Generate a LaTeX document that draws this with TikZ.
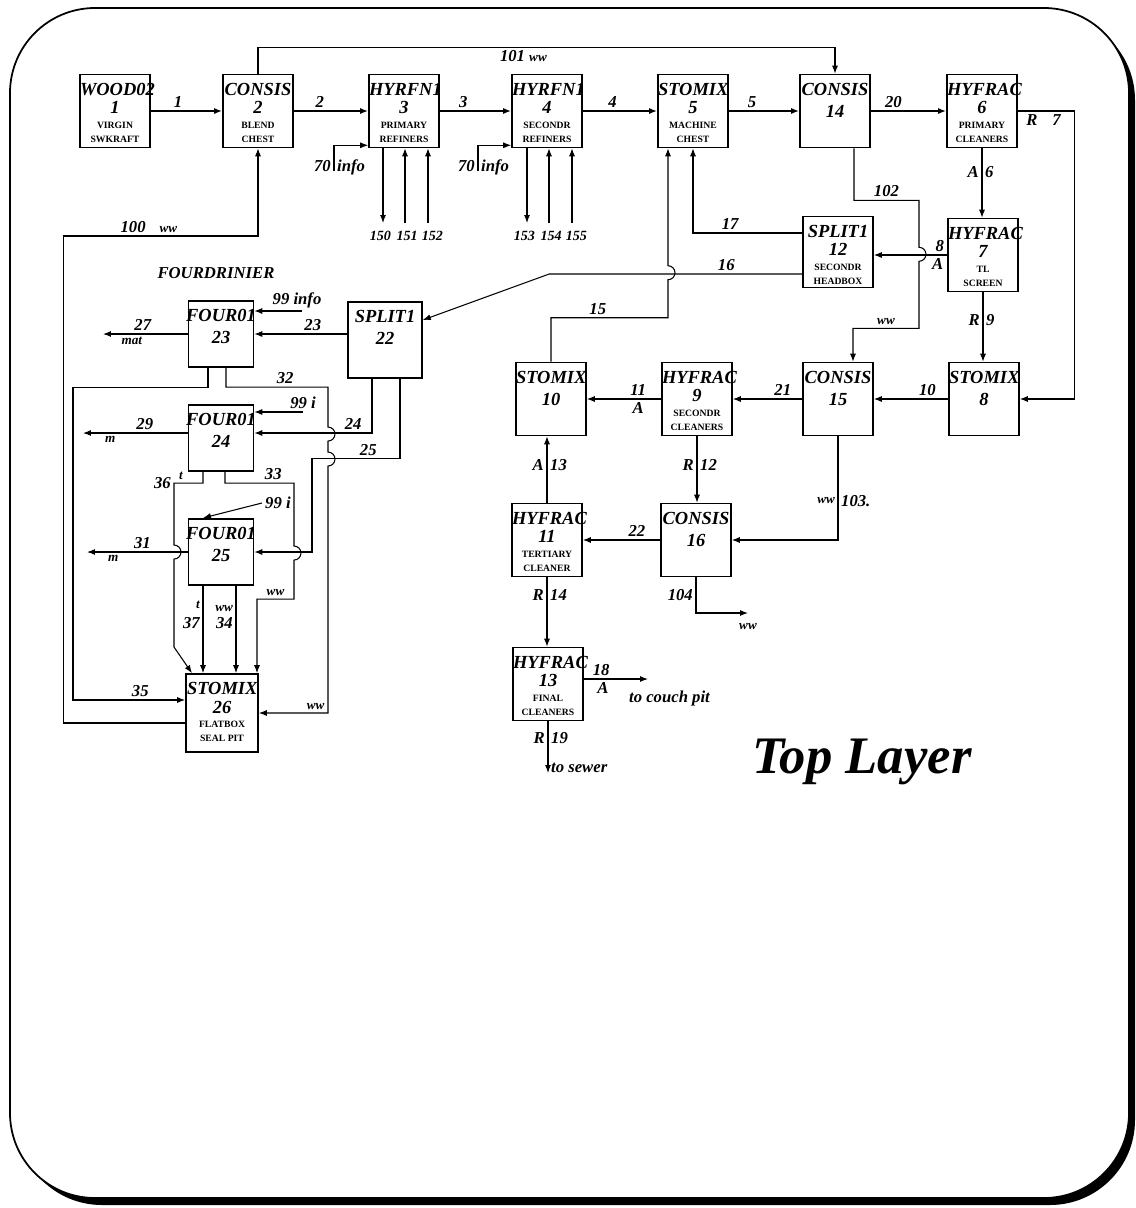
\documentclass[tikz,border=0pt]{standalone}
\usepackage{fontspec}
\setmainfont{Liberation Serif}
\usetikzlibrary{arrows.meta, calc}

% text inside the unit boxes: name, number and a two line note
\newcommand{\procbody}[4]{\parbox[t]{1.4cm}{\centering
    \fontsize{10.5}{10.5}\selectfont\bfseries\itshape
    \rule{0pt}{12pt}#1\par #2\par
    \fontsize{5.5}{8.2}\selectfont\upshape #3\par #4\par}}
\newcommand{\plainbody}[2]{\parbox[t]{1.4cm}{\centering
    \fontsize{10.5}{12.5}\selectfont\bfseries\itshape
    \rule{0pt}{12pt}#1\par #2\par}}

\begin{document}
\begin{tikzpicture}[
    x=0.02cm, y=-0.02cm,
    blk/.style={
        draw, line width=0.9pt, minimum width=1.4cm,
        minimum height=1.46cm, inner sep=0pt
    },
    smallblk/.style={blk, minimum width=1.3cm, minimum height=1.33cm},
    btxt/.style={anchor=north, inner sep=0pt},
    arr/.style={-{Latex[length=1.6mm, width=1.2mm]}, line width=0.6pt},
    thk/.style={line width=0.9pt},
    lbl/.style={font=\fontsize{9.5}{10}\selectfont\bfseries\itshape, inner sep=1.5pt},
    nlbl/.style={font=\fontsize{8}{9}\selectfont\bfseries\itshape, inner sep=0.5pt},
    slbl/.style={font=\fontsize{7.5}{8}\selectfont\bfseries\itshape, inner sep=1.5pt}
]
    % frame with shadow
    \useasboundingbox (0,0) rectangle (1136,1208);
    \fill[rounded corners=1.7cm] (17,15) rectangle (1135,1205);
    \draw[fill=white, line width=1pt, rounded corners=1.7cm] (10,8) rectangle (1129,1198);

    % main line
    \node[blk, label={[btxt]north:{\procbody{WOOD02}{1}{VIRGIN}{SWKRAFT}}}] (wood) at (115,111) {};
    \node[blk, label={[btxt]north:{\procbody{CONSIS}{2}{BLEND}{CHEST}}}] (blend) at (258,111) {};
    \node[blk, label={[btxt]north:{\procbody{HYRFN1}{3}{PRIMARY}{REFINERS}}}] (prirefiner) at (404,111) {};
    \node[blk, label={[btxt]north:{\procbody{HYRFN1}{4}{SECONDR}{REFINERS}}}] (secrefiner) at (547,111) {};
    \node[blk, label={[btxt]north:{\procbody{STOMIX}{5}{MACHINE}{CHEST}}}] (machchest) at (693,111) {};
    \node[blk, label={[btxt]north:{\plainbody{CONSIS}{14}}}] (consis14) at (835,111) {};
    \node[blk, label={[btxt]north:{\procbody{HYFRAC}{6}{PRIMARY}{CLEANERS}}}] (pricleaner) at (982,111) {};

    % cleaners and screen
    \node[blk, minimum height=1.42cm, label={[btxt]north:{\procbody{SPLIT1}{12}{SECONDR}{HEADBOX}}}] (headbox) at (838,252) {};
    \node[blk, label={[btxt]north:{\procbody{HYFRAC}{7}{TL}{SCREEN}}}] (tlscreen) at (983,255) {};
    \node[blk, label={[btxt]north:{\plainbody{STOMIX}{8}}}] (stomix8) at (984,399) {};
    \node[blk, label={[btxt]north:{\plainbody{CONSIS}{15}}}] (consis15) at (838,399) {};
    \node[blk, label={[btxt]north:{\procbody{HYFRAC}{9}{SECONDR}{CLEANERS}}}] (seccleaner) at (697,399) {};
    \node[blk, label={[btxt]north:{\plainbody{STOMIX}{10}}}] (stomix10) at (551,399) {};
    \node[blk, label={[btxt]north:{\procbody{HYFRAC}{11}{TERTIARY}{CLEANER}}}] (tertcleaner) at (547,540) {};
    \node[blk, label={[btxt]north:{\plainbody{CONSIS}{16}}}] (consis16) at (696,540) {};
    \node[blk, label={[btxt]north:{\procbody{HYFRAC}{13}{FINAL}{CLEANERS}}}] (fincleaner) at (548,684) {};

    % fourdrinier
    \node[lbl] (fourdr) at (216,273) {FOURDRINIER};
    \node[blk, minimum width=1.48cm, minimum height=1.52cm, label={[btxt]north:{\plainbody{SPLIT1}{22}}}] (split22) at (385,340) {};
    \node[smallblk, label={[btxt]north:{\plainbody{FOUR01}{23}}}] (four23) at (221,334) {};
    \node[smallblk, label={[btxt]north:{\plainbody{FOUR01}{24}}}] (four24) at (221,438) {};
    \node[smallblk, label={[btxt]north:{\plainbody{FOUR01}{25}}}] (four25) at (221,552) {};
    \node[blk, minimum width=1.44cm, minimum height=1.56cm, label={[btxt]north:{\procbody{STOMIX}{26}{FLATBOX}{SEAL PIT}}}] (flatbox) at (222,713) {};

    \node[font=\fontsize{30}{36}\selectfont\bfseries\itshape] (title) at (862,762) {Top Layer};

    % free ends
    \coordinate (in70a) at (334,171);
    \coordinate (in70b) at (478,171);
    \coordinate (out150) at (383,223);
    \coordinate (in151) at (405,223);
    \coordinate (in152) at (428,223);
    \coordinate (out153) at (527,223);
    \coordinate (in154) at (549,223);
    \coordinate (in155) at (572,223);
    \coordinate (in99a) at (302,311);
    \coordinate (in99b) at (303,412);
    \coordinate (in99c) at (262,503);
    \coordinate (mat) at (103,334);
    \coordinate (m29) at (83,433);
    \coordinate (m31) at (87,552);
    \coordinate (ww104) at (748,613);
    \coordinate (couch) at (648,679);
    \coordinate (sewer) at (548,773);

    % main line streams
    \draw[arr, thk] (wood) -- (blend) node[lbl, pos=0.38, above] {1};
    \draw[arr, thk] (blend) -- (prirefiner) node[lbl, pos=0.35, above] {2};
    \draw[arr, thk] (prirefiner) -- (secrefiner) node[lbl, pos=0.33, above] {3};
    \draw[arr, thk] (secrefiner) -- (machchest) node[lbl, pos=0.4, above] {4};
    \draw[arr, thk] (machchest) -- (consis14) node[lbl, pos=0.33, above] {5};
    \draw[arr, thk] (consis14) -- (pricleaner) node[lbl, pos=0.3, above] {20};

    \draw[arr] (blend.north) -- ++(0,-26) -| (consis14.north)
        node[lbl, pos=0.23, below] {101 {\fontsize{7.5}{8}\selectfont ww}};
    \draw[arr] ($(flatbox.west)+(0,10)$) -- ++(-122,0) -- ++(0,-487) -| (blend.south)
        node[lbl, pos=0.22, above] {100\hspace{8pt}{\fontsize{7.5}{8}\selectfont ww}};

    % refiners
    \draw[arr] (in70a) node[lbl, anchor=base east] {70} node[lbl, anchor=base west] {info}
        |- ($(prirefiner.south west)+(0,-3)$);
    \draw[arr] (in70b) node[lbl, anchor=base east] {70} node[lbl, anchor=base west] {info}
        |- ($(secrefiner.south west)+(0,-3)$);
    \draw[arr] (prirefiner.south -| out150) -- (out150) node[nlbl, below=4pt, xshift=-1.5pt] {150};
    \draw[arr] (in151) node[nlbl, below=4pt, xshift=1.2pt] {151} -- (prirefiner.south -| in151);
    \draw[arr] (in152) node[nlbl, below=4pt, xshift=2.5pt] {152} -- (prirefiner.south -| in152);
    \draw[arr] (secrefiner.south -| out153) -- (out153) node[nlbl, below=4pt, xshift=-1.5pt] {153};
    \draw[arr] (in154) node[nlbl, below=4pt, xshift=1.2pt] {154} -- (secrefiner.south -| in154);
    \draw[arr] (in155) node[nlbl, below=4pt, xshift=2.5pt] {155} -- (secrefiner.south -| in155);

    % cleaners loop
    \draw[arr] (pricleaner.south) -- (pricleaner.south |- tlscreen.north)
        node[lbl, pos=0.34, left] {A} node[lbl, pos=0.34, right] {6};
    \draw[arr] (pricleaner.east) -- ++(57,0) node[lbl, pos=0.25, below] {R} node[lbl, pos=0.68, below] {7}
        |- (stomix8.east);
    \draw[arr] (tlscreen.south) -- (tlscreen.south |- stomix8.north)
        node[lbl, pos=0.4, left] {R} node[lbl, pos=0.4, right] {9};
    \draw[arr] (tlscreen.west) -- (tlscreen.west -| headbox.east)
        node[lbl, pos=0.1, above] {8} node[lbl, pos=0.13, below] {A};
    \draw[arr] ($(consis14.south)+(19,0)$) -- ++(0,52) -- ++(65,0) node[lbl, midway, above] {102}
        -- ++(0,47) arc[start angle=90, end angle=-90, radius=0.14cm] -- ++(0,67)
        -- ++(-66,0) node[slbl, midway, above] {ww} -- ($(consis15.north)+(15,0)$);
    \draw[arr] ($(headbox.west)+(0,-19)$) -| (machchest.south) node[lbl, pos=0.33, above] {17};
    \draw[arr] ($(headbox.west)+(0,22)$) -- ++(-253,0) node[lbl, pos=0.3, above] {16}
        -- ($(split22.east)+(0,-20)$);
    \draw[arr] (stomix10.north) -- ++(0,-44) -- ++(117,0) node[lbl, pos=0.4, above] {15}
        -- ++(0,-38) arc[start angle=-90, end angle=90, radius=0.14cm] -- ($(machchest.south)+(-25,0)$);
    \draw[arr] (stomix8) -- (consis15) node[lbl, pos=0.28, above] {10};
    \draw[arr] (consis15) -- (seccleaner) node[lbl, pos=0.28, above] {21};
    \draw[arr] (seccleaner) -- (stomix10) node[lbl, pos=0.31, above] {11} node[lbl, pos=0.31, below] {A};
    \draw[arr] (seccleaner.south) -- (seccleaner.south |- consis16.north)
        node[lbl, pos=0.43, left] {R} node[lbl, pos=0.43, right] {12};
    \draw[arr] (tertcleaner.north) -- (tertcleaner.north |- stomix10.south)
        node[lbl, pos=0.57, left] {A} node[lbl, pos=0.57, right] {13};
    \draw[arr] (consis16) -- (tertcleaner) node[lbl, pos=0.3, above] {22};
    \draw[arr] (consis15.south) |- (consis16.east)
        node[slbl, pos=0.31, left] {ww} node[lbl, pos=0.31, right] {103.};
    \draw[arr] (consis16.south) |- (ww104) node[lbl, pos=0.25, left] {104}
        node[slbl, pos=1, below=4pt] {ww};
    \draw[arr] (tertcleaner.south) -- (tertcleaner.south |- fincleaner.north)
        node[lbl, pos=0.26, left] {R} node[lbl, pos=0.26, right] {14};
    \draw[arr] ($(fincleaner.east)+(0,-5)$) -- (couch) node[lbl, pos=0.27, above] {18}
        node[lbl, pos=0.3, below] {A}
        node[lbl, pos=1, anchor=base west, xshift=-0.44cm, yshift=-0.46cm] {to couch pit};
    \draw[arr] (fincleaner.south) -- (sewer) node[lbl, pos=0.33, left] {R} node[lbl, pos=0.33, right] {19}
        node[lbl, pos=1, right, yshift=0.1cm] {to sewer};

    % fourdrinier streams
    \draw[arr] (split22.west |- four23) -- (four23.east) node[lbl, pos=0.37, above] {23};
    \draw[arr] (in99a) node[lbl, above, xshift=-0.1cm] {99 info} -- (four23.east |- in99a);
    \draw[arr] (four23.west) -- (mat) node[lbl, pos=0.53, above] {27} node[slbl, pos=0.66, below] {mat};
    \draw[arr] ($(four23.south)+(5,0)$) -- ++(0,19) -- ++(102,0) node[lbl, pos=0.58, above] {32}
        -- ++(0,40) arc[start angle=90, end angle=-90, radius=0.14cm]
        -- ++(0,11) arc[start angle=90, end angle=-90, radius=0.14cm]
        |- (flatbox.east) node[slbl, pos=0.59, above] {ww};
    \draw[arr] ($(four23.south)+(-13,0)$) -- ++(0,19) -- ++(-135,0)
        |- ($(flatbox.west)+(0,-13)$) node[lbl, pos=0.8, above] {35};
    \draw[arr] ($(split22.south)+(-13,0)$) |- ($(four24.east)+(0,-5)$) node[lbl, pos=0.58, above] {24};
    \draw[arr] ($(split22.south)+(15,0)$) -- ++(0,80) -- ++(-88,0) node[lbl, pos=0.36, above] {25}
        |- (four25.east);
    \draw[arr] (in99b) node[lbl, above] {99 i} -- (four24.east |- in99b);
    \draw[arr] ($(four24.west)+(0,-5)$) -- (m29) node[lbl, pos=0.41, above] {29} node[slbl, pos=0.74, below] {m};
    \draw[arr] ($(four24.south)+(-18,0)$) -- ++(0,11) -- ++(-29,0) node[slbl, pos=0.76, above] {t}
        node[lbl, pos=1, left] {36}
        -- ++(0,62) arc[start angle=90, end angle=-90, radius=0.14cm] -- ++(0,88)
        -- ($(flatbox.north)+(-30,0)$);
    \draw[arr] ($(four24.south)+(4,0)$) -- ++(0,11) -- ++(69,0) node[lbl, pos=0.7, above] {33}
        -- ++(0,63) arc[start angle=90, end angle=-90, radius=0.14cm] -- ++(0,39)
        -- ++(-37,0) node[slbl, midway, above] {ww} -- ($(flatbox.north)+(35,0)$);
    \draw[arr] (in99c) node[lbl, right] {99 i} -- ($(four25.north)+(-18,0)$);
    \draw[arr] (four25.west) -- (m31) node[lbl, pos=0.45, above] {31} node[slbl, pos=0.74, below] {m};
    \draw[arr] ($(four25.south)+(-18,0)$) -- ($(flatbox.north)+(-19,0)$)
        node[slbl, pos=0.22, left] {t} node[lbl, pos=0.42, left] {37};
    \draw[arr] ($(four25.south)+(15,0)$) -- ($(flatbox.north)+(14,0)$)
        node[slbl, pos=0.26, left] {ww} node[lbl, pos=0.43, left] {34};
\end{tikzpicture}
\end{document}
